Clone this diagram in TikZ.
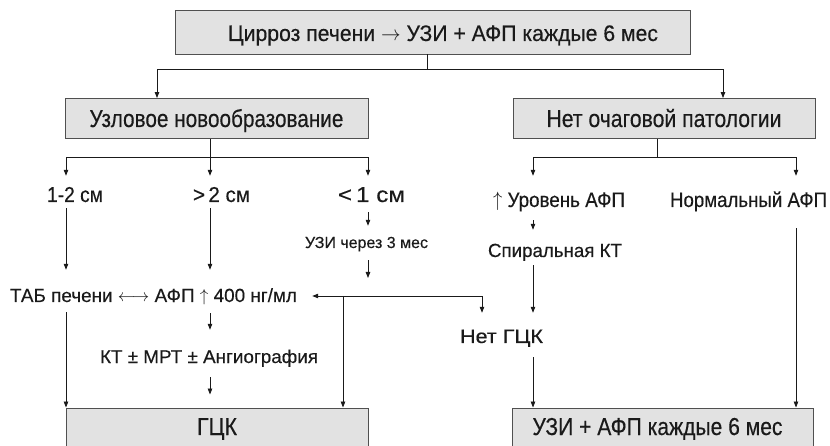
\documentclass[tikz,border=0pt]{standalone}
\usepackage{fontspec}
\setmainfont{Liberation Sans}[FakeBold=0.35]
\usetikzlibrary{arrows.meta}
\definecolor{boxfill}{HTML}{E2E2E2}
\definecolor{boxline}{HTML}{505050}
\definecolor{ink}{HTML}{1A1A1A}
\newcommand{\fitw}[2]{\resizebox{#1}{\height}{#2}}
\begin{document}
\begin{tikzpicture}[x=1pt,y=-1pt,
  >={Triangle[length=6pt,width=4.5pt]},
  conn/.style={draw=ink, line width=0.8pt},
  box/.style={draw=boxline, fill=boxfill, line width=0.9pt, inner sep=0pt, text depth=0pt, text=ink},
  lbl/.style={inner sep=0pt, anchor=base, text depth=0pt, text=ink},
]
\useasboundingbox (0,0) rectangle (830,446);

% boxes
\node[box, minimum width=515pt, minimum height=44pt, text height=18pt, font=\fontsize{22.5}{24}\selectfont] (top) at (432.5,32)
  {\hspace*{21pt}\fitw{430pt}{Цирроз печени $\rightarrow$ УЗИ + АФП каждые 6 мес}};
\node[box, minimum width=303pt, minimum height=40pt, text height=17pt, font=\fontsize{24.5}{26}\selectfont] (lbox) at (216.5,118.5)
  {\fitw{254pt}{Узловое новообразование}};
\node[box, minimum width=302pt, minimum height=40pt, text height=17pt, font=\fontsize{24.5}{26}\selectfont] (rbox) at (664,118.5)
  {\fitw{235pt}{Нет очаговой патологии}};
\node[box, minimum width=302pt, minimum height=46pt, text height=8pt, font=\fontsize{24.5}{26}\selectfont] (lbot) at (217,431)
  {\fitw{40pt}{ГЦК}};
\node[box, minimum width=301pt, minimum height=46pt, text height=8pt, font=\fontsize{24.5}{26}\selectfont] (rbot) at (662.5,431)
  {\fitw{250pt}{УЗИ + АФП каждые 6 мес}\hspace*{10pt}};

% labels
\node[lbl, text height=14pt, font=\fontsize{21.5}{23}\selectfont] (t12) at (75,202) {\fitw{56pt}{1-2 см}};
\node[lbl, text height=14pt, font=\fontsize{21.5}{23}\selectfont] (tg2) at (221.5,202) {\fitw{57pt}{>\,2 см}};
\node[lbl, text height=14pt, font=\fontsize{21.5}{23}\selectfont] (tl1) at (371.5,202) {\fitw{67pt}{<\,1 см}};
\node[lbl, text height=14pt, font=\fontsize{21}{23}\selectfont] (tup) at (559,207) {\fitw{132pt}{$\uparrow$ Уровень АФП}};
\node[lbl, text height=14pt, font=\fontsize{21}{23}\selectfont] (tnorm) at (748.5,207) {\fitw{157pt}{Нормальный АФП}};
\node[lbl, text height=10.5pt, font=\fontsize{16}{18}\selectfont] (tuzi3) at (366.5,248) {\fitw{123pt}{УЗИ через 3 мес}};
\node[lbl, text height=12pt, font=\fontsize{19}{21}\selectfont] (tspir) at (555,257) {\fitw{134pt}{Спиральная КТ}};
\node[lbl, text height=12pt, font=\fontsize{19}{21}\selectfont] (ttab) at (153.5,302) {\fitw{287pt}{ТАБ печени $\longleftrightarrow$ АФП $\uparrow$ 400 нг/мл}};
\node[lbl, text height=11.5pt, font=\fontsize{18.5}{20}\selectfont] (tkt) at (209,363) {\fitw{218pt}{КТ ± МРТ ± Ангиография}};
\node[lbl, text height=12pt, font=\fontsize{19.5}{21}\selectfont] (tnet) at (501.5,343) {\fitw{83pt}{Нет ГЦК}};

% columns and junctions
\coordinate (cA) at (157,0);
\coordinate (cB) at (723,0);
\coordinate (c1) at (66,0);
\coordinate (c2) at (210,0);
\coordinate (c3) at (368,0);
\coordinate (c4) at (533,0);
\coordinate (c5) at (796,0);
\coordinate (c7) at (482,0);
\coordinate (hT) at (427,69);
\coordinate (hL) at (210,157);
\coordinate (hR) at (657,157);
\coordinate (hM) at (343,296);

% top level
\draw[conn] (top.south -| hT) -- (hT);
\draw[conn,->] (hT) -| (lbox.north -| cA);
\draw[conn,->] (hT) -| (rbox.north -| cB);

% left branch
\draw[conn] (lbox.south -| hL) -- (hL);
\draw[conn,->,shorten >=12pt] (hL) -| (t12.north -| c1);
\draw[conn,->,shorten >=12pt] (hL) -- (tg2.north -| c2);
\draw[conn,->,shorten >=12pt] (hL) -| (tl1.north -| c3);

% right branch
\draw[conn] (rbox.south -| hR) -- (hR);
\draw[conn,->,shorten >=17pt] (hR) -| (tup.north -| c4);
\draw[conn,->,shorten >=17pt] (hR) -| (tnorm.north -| c5);
\draw[conn,->,shorten <=13pt,shorten >=15pt] (tup.south -| c4) -- (tspir.north -| c4);
\draw[conn,->,shorten <=8pt,shorten >=18pt] (tspir.south -| c4) -- (tnet.north -| c4);
\draw[conn,->,shorten <=14pt] (tnet.south -| c4) -- (rbot.north -| c4);
\draw[conn,->,shorten <=21pt] (tnorm.south -| c5) -- (rbot.north -| c5);

% left lower part
\draw[conn,->,shorten <=6pt,shorten >=20pt] (t12.south -| c1) -- (ttab.north -| c1);
\draw[conn,->,shorten <=6pt,shorten >=20pt] (tg2.south -| c2) -- (ttab.north -| c2);
\draw[conn,->,shorten <=10pt,shorten >=11.5pt] (tl1.south -| c3) -- (tuzi3.north -| c3);
\draw[conn,->,shorten <=12pt,shorten >=18pt] (tuzi3.south -| c3) -- (hM -| c3);
\draw[conn,->,shorten <=10pt] (ttab.south -| c1) -- (lbot.north -| c1);
\draw[conn,->,shorten <=11pt,shorten >=21.5pt] (ttab.south -| c2) -- (tkt.north -| c2);
\draw[conn,->,shorten <=14pt,shorten >=13pt] (tkt.south -| c2) -- (lbot.north -| c2);
\draw[conn,<->,shorten <=15pt,shorten >=18pt] (ttab.east |- hM) -| (tnet.north -| c7);
\draw[conn,->] (hM) -- (lbot.north -| hM);
\end{tikzpicture}
\end{document}
